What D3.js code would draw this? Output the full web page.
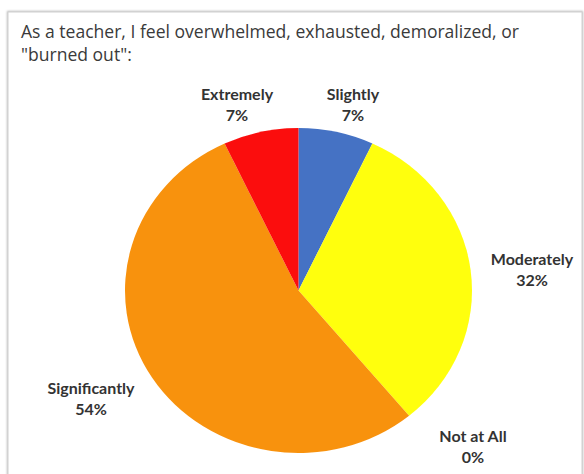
<!DOCTYPE html>
<html>
<head>
<meta charset="utf-8">
<script src="https://cdn.jsdelivr.net/npm/d3@7"></script>
<style>
  html, body { margin: 0; padding: 0; background: #fff; }
  svg { display: block; }
</style>
</head>
<body>
<svg id="chart" width="584" height="474"></svg>
<script>
// answers, clockwise from 12 o'clock
const categories = ['Slightly', 'Moderately', 'Not at All', 'Significantly', 'Extremely'];
const values     = [7, 32, 0, 54, 7];
const colors     = ['#4472c4', '#ffff0a', '#a5a5a5', '#f8920f', '#fb0d0d'];
const titleLines = ['As a teacher, I feel overwhelmed, exhausted, demoralized, or', '"burned out":'];

// label spots: centre x, baseline of first line
const labelPos = [[353, 100], [532, 265], [473, 442], [91, 394], [237, 100]];

const W = 584, H = 474;
const svg = d3.select('#chart');

const defs = svg.append('defs');
const sh = defs.append('filter').attr('id', 'frameShadow')
  .attr('x', '-5%').attr('y', '-5%').attr('width', '110%').attr('height', '110%');
sh.append('feGaussianBlur').attr('stdDeviation', 1.2);

const soft = defs.append('filter').attr('id', 'soft');
soft.append('feGaussianBlur').attr('stdDeviation', 0.6);

// frame
svg.append('rect')
  .attr('x', 8).attr('y', 12).attr('width', 574).attr('height', 480)
  .attr('fill', 'none').attr('stroke', '#b8b8b8').attr('stroke-width', 2)
  .attr('filter', 'url(#frameShadow)');
svg.append('rect')
  .attr('x', 8).attr('y', 12).attr('width', 574).attr('height', 480)
  .attr('fill', '#fff').attr('stroke', '#d0d0d0').attr('stroke-width', 1);

// title - sized so the first line spans about 498px like the source
const title = svg.append('g').selectAll('text')
  .data(titleLines)
  .join('text')
  .attr('x', 21)
  .attr('y', (d, i) => 38 + i * 23)
  .attr('font-family', '"Open Sans", Lato, sans-serif')
  .attr('font-size', 15)
  .attr('fill', '#3a3a3a')
  .text(d => d);
const tw = title.node().getComputedTextLength();
title.attr('font-size', 15 * 498 / tw);

// pie (slightly stretched horizontally like the source)
const cx = 298.5, cy = 290.5, rx = 173.5, ry = 162.5;
const pie = d3.pie().sort(null).value(d => d.v);
const arc = d3.arc().innerRadius(0).outerRadius(ry);
const data = categories.map((c, i) => ({ c, v: values[i], col: colors[i] }));

const pg = svg.append('g')
  .attr('transform', `translate(${cx},${cy}) scale(${rx / ry},1)`)
  .attr('filter', 'url(#soft)');

pg.selectAll('path')
  .data(pie(data))
  .join('path')
  .attr('d', arc)
  .attr('fill', d => d.data.col);

// labels
const lg = svg.append('g')
  .attr('font-family', 'Lato, "Open Sans", sans-serif')
  .attr('font-weight', 'bold')
  .attr('font-size', 16)
  .attr('fill', '#333')
  .attr('text-anchor', 'middle');

data.forEach((d, i) => {
  const [x, y] = labelPos[i];
  const t = lg.append('text').attr('x', x).attr('y', y);
  t.append('tspan').attr('x', x).attr('dy', 0).text(d.c);
  t.append('tspan').attr('x', x).attr('dy', 21).text(d3.format('.0f')(d.v) + '%');
});
</script>
</body>
</html>
